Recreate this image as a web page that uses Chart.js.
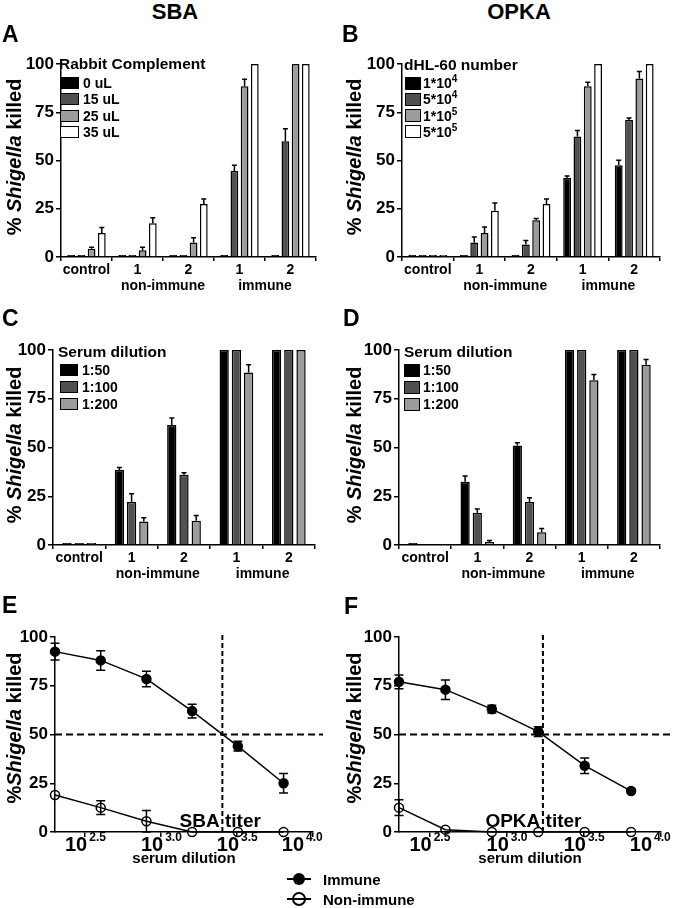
<!DOCTYPE html>
<html>
<head>
<meta charset="utf-8">
<script src="https://cdn.jsdelivr.net/npm/chart.js@4.4.1/dist/chart.umd.min.js"></script>
<style>
  body { margin: 0; background: #fff; }
  #fig { position: relative; width: 680px; height: 908px; overflow: hidden; color: #000;
         font-family: 'Liberation Sans', Arial, sans-serif; font-weight: bold; }
  #fig canvas { position: absolute; }
  .t { position: absolute; white-space: nowrap; line-height: 1; }
  .sw { position: absolute; box-sizing: border-box; border: 1.5px solid #000; }
  sup { font-size: 10px; line-height: 0; vertical-align: 6px; }
</style>
</head>
<body>
<div id="fig">
  <canvas id="cA" width="340" height="262" style="left:0;top:40px"></canvas>
  <canvas id="cB" width="340" height="262" style="left:340px;top:40px"></canvas>
  <canvas id="cC" width="340" height="262" style="left:0;top:326px"></canvas>
  <canvas id="cD" width="340" height="262" style="left:340px;top:326px"></canvas>
  <canvas id="cE" width="340" height="254" style="left:0;top:616px"></canvas>
  <canvas id="cF" width="340" height="254" style="left:340px;top:616px"></canvas>
  <svg style="position:absolute;left:284px;top:868px" width="32" height="42">
    <line x1="3" y1="11" x2="27" y2="11" stroke="#000" stroke-width="2"/>
    <circle cx="15" cy="11" r="6" fill="#000"/>
    <line x1="3" y1="31" x2="27" y2="31" stroke="#000" stroke-width="2"/>
    <circle cx="15" cy="31" r="6" fill="none" stroke="#000" stroke-width="2"/>
  </svg>
</div>
<script>
const FONT = "'Liberation Sans', Arial, sans-serif";

// bar panels (A-D)
const barCats = ["control", "1", "2", "1", "2"];
const groupLabels = ["non-immune", "immune"];
const groupSpans = [[1, 2], [3, 4]];
const shades = ["#000000", "#505050", "#9c9c9c", "#ffffff"];

// A: SBA, rabbit complement volume
const complementLabels = ["0 uL", "15 uL", "25 uL", "35 uL"];
const sbaC0 = [1, 1, 1, 1, 1];
const sbaC15 = [1, 1, 1, 44.5, 60];
const sbaC25 = [4.3, 3.5, 7.5, 88.5, 100];
const sbaC35 = [12.5, 17.5, 27.5, 100, 100];
const sbaC0Err = [0, 0, 0, 0, 0];
const sbaC15Err = [0, 0, 0, 3, 6.4];
const sbaC25Err = [0.8, 1.5, 2.5, 3.6, 0];
const sbaC35Err = [2.8, 2.8, 2.6, 0, 0];

// B: OPKA, dHL-60 cell number
const cellLabels = ["1*10<sup>4</sup>", "5*10<sup>4</sup>", "1*10<sup>5</sup>", "5*10<sup>5</sup>"];
const opkaN1e4 = [1, 1, 1, 41, 47.5];
const opkaN5e4 = [1, 7.5, 6.5, 62.5, 71];
const opkaN1e5 = [1, 12.5, 19, 88.5, 92.5];
const opkaN5e5 = [1, 24, 27.5, 100, 100];
const opkaN1e4Err = [0, 0, 0, 1, 2.6];
const opkaN5e4Err = [0, 2.9, 2, 3, 1];
const opkaN1e5Err = [0, 3, 1, 2, 3.6];
const opkaN5e5Err = [0, 4, 2.6, 0, 0];

// C / D: serum dilution
const dilutionLabels = ["1:50", "1:100", "1:200"];
const sbaD50 = [1, 38.5, 61.5, 100, 100];
const sbaD100 = [1, 22, 36, 100, 100];
const sbaD200 = [1, 12, 12.5, 88.5, 100];
const sbaD50Err = [0, 1.2, 3.6, 0, 0];
const sbaD100Err = [0, 4.3, 1, 0, 0];
const sbaD200Err = [0, 2, 2.6, 4, 0];
const opkaD50 = [1, 32.5, 51, 100, 100];
const opkaD100 = [null, 16.5, 22, 100, 100];
const opkaD200 = [null, 1.5, 6.5, 84.5, 92.5];
const opkaD50Err = [0, 2.9, 1.5, 0, 0];
const opkaD100Err = [0, 2, 2.2, 0, 0];
const opkaD200Err = [0, 0.8, 2, 3, 2.6];

// E / F: titration curves
const dilutions = [200, 400, 800, 1600, 3200, 6400];
const tickExps = ["2.5", "3.0", "3.5", "4.0"];
const halfKill = 50;
const sbaImmune = [92.5, 88, 78.5, 62, 44, 25];
const sbaImmuneErr = [4.3, 5, 4, 3.5, 2.5, 5];
const sbaNonImmune = [19, 12.5, 5.5, 0, 0, 0];
const sbaNonImmuneErr = [0, 3.5, 5.5, 0, 0, 0];
const sbaTiter = 2530;
const opkaImmune = [77, 73, 63, 51.5, 34, 21];
const opkaImmuneErr = [3.5, 5, 2, 2.5, 4, 0];
const opkaNonImmune = [12.5, 1.2, 0, 0, 0, 0];
const opkaNonImmuneErr = [4, 0, 0, 0, 0, 0];
const opkaTiter = 1715;

Chart.defaults.font.family = FONT;
Chart.defaults.color = "#000";

const errorBarPlugin = {
  id: "errorBars",
  draw(chart, o) {
    const { ctx } = chart;
    const y = chart.scales.y;
    ctx.save();
    ctx.strokeStyle = "#000";
    ctx.lineWidth = 1.5;
    chart.data.datasets.forEach((ds, di) => {
      if (!ds.errors) return;
      chart.getDatasetMeta(di).data.forEach((el, i) => {
        const raw = ds.data[i];
        const e = ds.errors[i];
        if (raw == null || !e) return;
        const v = typeof raw === "object" ? raw.y : raw;
        const top = y.getPixelForValue(v + e);
        const bot = y.getPixelForValue(o.both ? v - e : v);
        ctx.beginPath();
        ctx.moveTo(el.x, bot);
        ctx.lineTo(el.x, top);
        ctx.moveTo(el.x - o.cap, top);
        ctx.lineTo(el.x + o.cap, top);
        if (o.both) {
          ctx.moveTo(el.x - o.cap, bot);
          ctx.lineTo(el.x + o.cap, bot);
        }
        ctx.stroke();
      });
    });
    ctx.restore();
  },
  beforeDatasetsDraw(chart, args, o) { if (o.under) this.draw(chart, o); },
  afterDatasetsDraw(chart, args, o) { if (!o.under) this.draw(chart, o); },
};

const yTitlePlugin = {
  id: "yTitle",
  afterDraw(chart, args, o) {
    const { ctx } = chart;
    const fonts = o.parts.map(([, it]) => `${it ? "italic " : ""}bold ${o.size}px ${FONT}`);
    ctx.save();
    const ws = o.parts.map(([t], i) => { ctx.font = fonts[i]; return ctx.measureText(t).width; });
    const total = ws.reduce((a, b) => a + b, 0);
    ctx.translate(o.x, o.cy);
    ctx.rotate(-Math.PI / 2);
    ctx.fillStyle = "#000";
    ctx.textBaseline = "middle";
    ctx.textAlign = "left";
    let cx = -total / 2;
    o.parts.forEach(([t], i) => {
      ctx.font = fonts[i];
      ctx.fillText(t, cx, 0);
      cx += ws[i];
    });
    ctx.restore();
  },
};

const groupPlugin = {
  id: "groups",
  afterDraw(chart) {
    const { ctx, chartArea } = chart;
    const x = chart.scales.x;
    ctx.save();
    ctx.font = `bold 14px ${FONT}`;
    ctx.fillStyle = "#000";
    ctx.textAlign = "center";
    ctx.textBaseline = "middle";
    groupLabels.forEach((g, i) => {
      const [a, b] = groupSpans[i];
      const px = (x.getPixelForValue(a) + x.getPixelForValue(b)) / 2;
      ctx.fillText(g, px, chartArea.bottom + 29);
    });
    ctx.restore();
  },
};

const curvePlugin = {
  id: "curve",
  beforeDatasetsDraw(chart, args, o) {
    const { ctx, chartArea: a, scales: { x, y } } = chart;
    const tx = x.getPixelForValue(o.titer);
    const hy = y.getPixelForValue(halfKill);
    ctx.save();
    ctx.strokeStyle = "#000";
    ctx.lineWidth = 2;
    ctx.setLineDash([7, 4]);
    ctx.beginPath();
    ctx.moveTo(a.left, hy);
    ctx.lineTo(a.right + 10, hy);
    ctx.stroke();
    ctx.setLineDash([5, 3]);
    ctx.beginPath();
    ctx.moveTo(tx, y.getPixelForValue(0));
    ctx.lineTo(tx, a.top - 5);
    ctx.stroke();
    ctx.restore();
  },
  afterDraw(chart, args, o) {
    const { ctx, chartArea: a, scales: { x } } = chart;
    ctx.save();
    ctx.fillStyle = "#000";
    ctx.textBaseline = "alphabetic";
    tickExps.forEach((e, i) => {
      const px = x.getPixelForValue(Math.pow(10, Number(e))) + (i === tickExps.length - 1 ? -11 : 0);
      ctx.font = `bold 20px ${FONT}`;
      ctx.textAlign = "right";
      ctx.fillText("10", px + 2, a.bottom + 19);
      ctx.font = `bold 12px ${FONT}`;
      ctx.textAlign = "left";
      ctx.fillText(e, px + 4, a.bottom + 9);
    });
    ctx.font = `bold 15px ${FONT}`;
    ctx.textAlign = "center";
    ctx.fillText("serum dilution", (a.left + a.right) / 2, a.bottom + 31);
    // titer label, word gap on the dashed line
    const tx = x.getPixelForValue(o.titer);
    ctx.font = `bold 19px ${FONT}`;
    ctx.textAlign = "left";
    const w1 = ctx.measureText(o.name).width;
    const sp = ctx.measureText(" ").width;
    ctx.fillText(o.name + " titer", tx - w1 - sp / 2, a.bottom - 5);
    ctx.restore();
  },
};

function yAxis(width) {
  return {
    min: 0,
    max: 100,
    ticks: { stepSize: 25, font: { size: 17, weight: "bold" }, color: "#000", padding: 2 },
    grid: { drawOnChartArea: false, tickLength: 5, color: "#000", lineWidth: 1.5 },
    border: { color: "#000", width: 1.5 },
    afterFit: (s) => { s.width = width; },
  };
}

const barDs = (label, data, errors, color, cp, bp) => ({
  label, data, errors,
  backgroundColor: color,
  borderColor: "#000",
  borderWidth: 1.5,
  categoryPercentage: cp,
  barPercentage: bp,
});

function barChart(id, datasets, g) {
  return new Chart(document.getElementById(id), {
    type: "bar",
    data: { labels: barCats, datasets },
    options: {
      responsive: false,
      animation: false,
      devicePixelRatio: 1,
      layout: { padding: { top: g.top, right: g.right, left: 0, bottom: 0 } },
      plugins: {
        legend: { display: false },
        tooltip: { enabled: false },
        errorBars: { cap: 2.5, both: false, under: false },
        yTitle: { parts: [["% ", false], ["Shigella", true], [" killed", false]], size: 20, x: 15, cy: g.cy },
      },
      scales: {
        x: {
          ticks: { font: { size: 14, weight: "bold" }, color: "#000", padding: 1,
                   maxRotation: 0, minRotation: 0, autoSkip: false },
          grid: { drawOnChartArea: false, tickLength: 4, color: "#000", lineWidth: 1.5 },
          border: { color: "#000", width: 1.5 },
          afterFit: (s) => { s.height = g.xh; },
        },
        y: yAxis(g.yw),
      },
    },
    plugins: [errorBarPlugin, yTitlePlugin, groupPlugin],
  });
}

function curveChart(id, imm, immErr, non, nonErr, titer, name, g) {
  const pts = (vals) => dilutions.map((d, i) => ({ x: d, y: vals[i] }));
  return new Chart(document.getElementById(id), {
    type: "line",
    data: {
      datasets: [
        { label: "Non-immune", data: pts(non), errors: nonErr, borderColor: "#000", borderWidth: 1.5,
          pointRadius: 4.5, pointBackgroundColor: "rgba(0,0,0,0)", pointBorderColor: "#000",
          pointBorderWidth: 1.5, clip: false },
        { label: "Immune", data: pts(imm), errors: immErr, borderColor: "#000", borderWidth: 1.5,
          pointRadius: 4.5, pointBackgroundColor: "#000", pointBorderColor: "#000",
          pointBorderWidth: 1.5, clip: false },
      ],
    },
    options: {
      responsive: false,
      animation: false,
      devicePixelRatio: 1,
      layout: { padding: { top: g.top, right: g.right, left: 0, bottom: 0 } },
      plugins: {
        legend: { display: false },
        tooltip: { enabled: false },
        errorBars: { cap: 4.5, both: true, under: true },
        yTitle: { parts: [["%", false], ["Shigella", true], [" killed", false]], size: 20, x: 15, cy: g.cy },
        curve: { titer, name },
      },
      scales: {
        x: {
          type: "logarithmic",
          min: 200,
          max: 10000,
          afterBuildTicks: (s) => { s.ticks = tickExps.map((e) => ({ value: Math.pow(10, Number(e)) })); },
          ticks: { display: false },
          grid: { drawOnChartArea: false, tickLength: 5, color: "#000", lineWidth: 1.5 },
          border: { color: "#000", width: 1.5 },
          afterFit: (s) => { s.height = g.xh; },
        },
        y: yAxis(g.yw),
      },
    },
    plugins: [errorBarPlugin, yTitlePlugin, curvePlugin],
  });
}

barChart("cA", [
  barDs(complementLabels[0], sbaC0, sbaC0Err, shades[0], 0.8, 0.76),
  barDs(complementLabels[1], sbaC15, sbaC15Err, shades[1], 0.8, 0.76),
  barDs(complementLabels[2], sbaC25, sbaC25Err, shades[2], 0.8, 0.76),
  barDs(complementLabels[3], sbaC35, sbaC35Err, shades[3], 0.8, 0.76),
], { top: 24, right: 24, yw: 61, xh: 45, cy: 117 });

barChart("cB", [
  barDs("1e4", opkaN1e4, opkaN1e4Err, shades[0], 0.8, 0.76),
  barDs("5e4", opkaN5e4, opkaN5e4Err, shades[1], 0.8, 0.76),
  barDs("1e5", opkaN1e5, opkaN1e5Err, shades[2], 0.8, 0.76),
  barDs("5e5", opkaN5e5, opkaN5e5Err, shades[3], 0.8, 0.76),
], { top: 24, right: 20, yw: 62, xh: 45, cy: 117 });

barChart("cC", [
  barDs(dilutionLabels[0], sbaD50, sbaD50Err, shades[0], 0.7, 0.76),
  barDs(dilutionLabels[1], sbaD100, sbaD100Err, shades[1], 0.7, 0.76),
  barDs(dilutionLabels[2], sbaD200, sbaD200Err, shades[2], 0.7, 0.76),
], { top: 24, right: 25, yw: 53, xh: 43, cy: 119 });

barChart("cD", [
  barDs(dilutionLabels[0], opkaD50, opkaD50Err, shades[0], 0.7, 0.76),
  barDs(dilutionLabels[1], opkaD100, opkaD100Err, shades[1], 0.7, 0.76),
  barDs(dilutionLabels[2], opkaD200, opkaD200Err, shades[2], 0.7, 0.76),
], { top: 24, right: 20, yw: 59, xh: 43, cy: 119 });

curveChart("cE", sbaImmune, sbaImmuneErr, sbaNonImmune, sbaNonImmuneErr, sbaTiter, "SBA",
  { top: 21, right: 27, yw: 55, xh: 38, cy: 112 });
curveChart("cF", opkaImmune, opkaImmuneErr, opkaNonImmune, opkaNonImmuneErr, opkaTiter, "OPKA",
  { top: 21, right: 19, yw: 59, xh: 38, cy: 112 });

// html text: titles, panel letters, legends
const fig = document.getElementById("fig");
function put(html, x, baseline, size, center) {
  const d = document.createElement("div");
  d.className = "t";
  d.innerHTML = html;
  d.style.fontSize = size + "px";
  d.style.top = (baseline - 0.8465 * size) + "px";
  d.style.left = x + "px";
  if (center) d.style.transform = "translateX(-50%)";
  fig.appendChild(d);
}
function swatch(x, cy, w, h, color) {
  const d = document.createElement("div");
  d.className = "sw";
  Object.assign(d.style, { left: x + "px", top: (cy - h / 2) + "px", width: w + "px", height: h + "px", background: color });
  fig.appendChild(d);
}
function legend(title, labels, g) {
  put(title, g.x, g.base, 15.5);
  labels.forEach((lab, i) => {
    const cy = g.cy0 + g.step * i;
    swatch(g.bx, cy, g.bw, g.bh, shades[i]);
    put(lab, g.tx, cy + 5, 14);
  });
}

put("SBA", 175, 20, 22, true);
put("OPKA", 519, 20, 22, true);
[["A", 2, 42], ["B", 342, 42], ["C", 2, 326], ["D", 343, 326], ["E", 2, 613], ["F", 344, 614]]
  .forEach(([l, x, b]) => put(l, x, b, 23));

legend("Rabbit Complement", complementLabels, { x: 59, base: 69.5, bx: 60, bw: 19, bh: 12, cy0: 83, step: 16.3, tx: 83 });
legend("dHL-60 number", cellLabels, { x: 404, base: 70, bx: 405, bw: 16, bh: 13, cy0: 83, step: 16.3, tx: 423 });
legend("Serum dilution", dilutionLabels, { x: 58, base: 357, bx: 60, bw: 18, bh: 12, cy0: 370, step: 17, tx: 82 });
legend("Serum dilution", dilutionLabels, { x: 404, base: 357, bx: 404, bw: 16, bh: 13, cy0: 370, step: 17, tx: 423 });

put("Immune", 323, 885, 15);
put("Non-immune", 323, 905, 15);
</script>
</body>
</html>
